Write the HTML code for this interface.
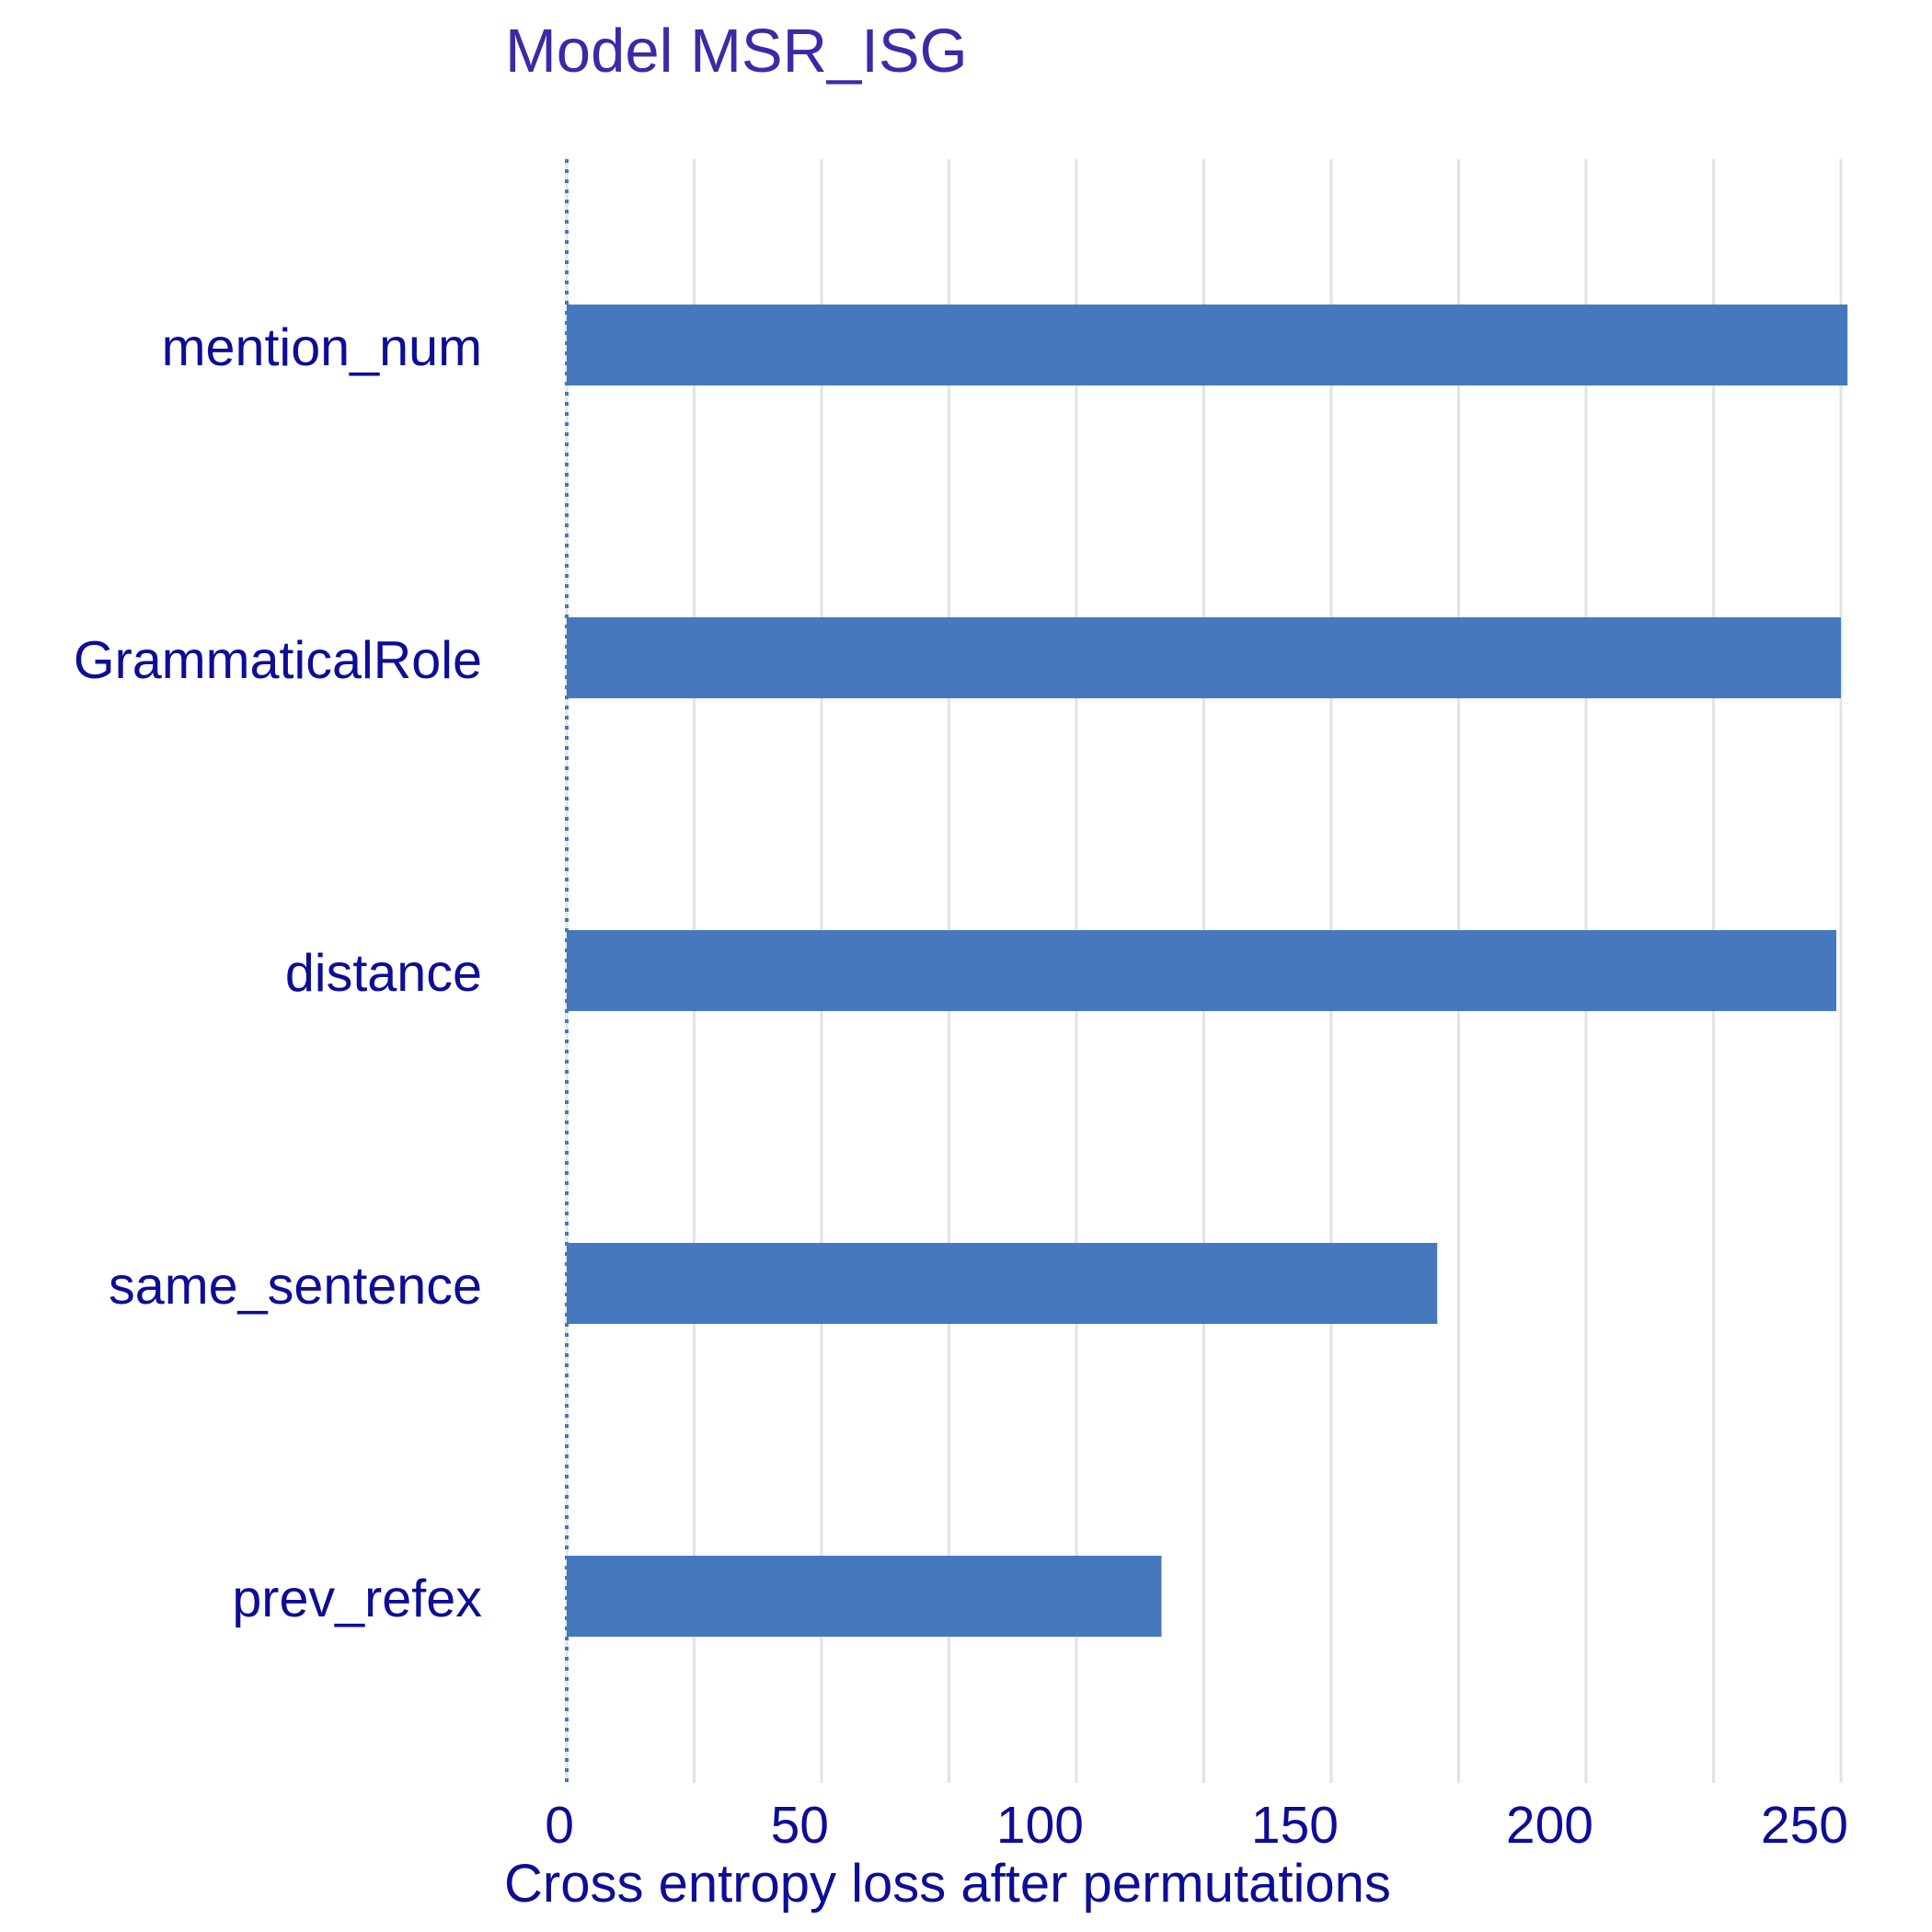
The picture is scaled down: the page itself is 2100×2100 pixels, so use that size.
<!DOCTYPE html>
<html><head><meta charset="utf-8"><style>html,body{margin:0;padding:0;background:#fff}svg{display:block}text{font-family:"Liberation Sans",Arial,sans-serif}</style></head>
<body>
<svg id="chart" width="2100" height="2100" viewBox="0 0 2100 2100" xmlns="http://www.w3.org/2000/svg">
<text x="549" y="78" font-size="67" fill="#3b2aa8">Model MSR_ISG</text>
<g id="grid"></g><g id="bars"></g><g id="ylabels"></g><g id="xticks"></g>
<text x="548" y="2067" font-size="58" fill="#0d0d96">Cross entropy loss after permutations</text>
</svg>
<script>
const categories = ["mention_num","GrammaticalRole","distance","same_sentence","prev_refex"];
const values = [251.3, 250, 249.1, 170.8, 116.7];
const baseline = 0;
const tickValues = [0,50,100,150,200,250];
const gridValues = [0,25,50,75,100,125,150,175,200,225,250];
const NS="http://www.w3.org/2000/svg";
const x0=616, pxPerUnit=5.54;
const xs=v=>x0+v*pxPerUnit;
const yc=i=>375+i*340;
const gTop=173, gBot=1938;
function mk(tag,attrs,parent){const e=document.createElementNS(NS,tag);for(const k in attrs)e.setAttribute(k,attrs[k]);document.getElementById(parent).appendChild(e);return e;}
gridValues.forEach(v=>{const l=mk('line',{x1:xs(v),x2:xs(v),y1:gTop,y2:gBot,stroke:'#e3e3e3','stroke-width':3},'grid');

});
categories.forEach((c,i)=>{
const r=mk('rect',{x:xs(baseline),y:yc(i)-44,width:xs(values[i])-xs(baseline),height:88,fill:'#4678bd'},'bars');


const t=mk('text',{x:524,y:yc(i)+22,'font-size':57.5,fill:'#0d0d96','text-anchor':'end'},'ylabels');t.textContent=c;


});
const d=mk('line',{x1:xs(baseline),x2:xs(baseline),y1:gTop,y2:gBot,stroke:'#4678bd','stroke-width':4,'stroke-dasharray':'4,7'},'bars');


tickValues.forEach(v=>{const t=mk('text',{x:xs(v)+8,y:2003,'font-size':57,fill:'#0d0d96','text-anchor':'end'},'xticks');t.textContent=v;

});
</script>
</body></html>
